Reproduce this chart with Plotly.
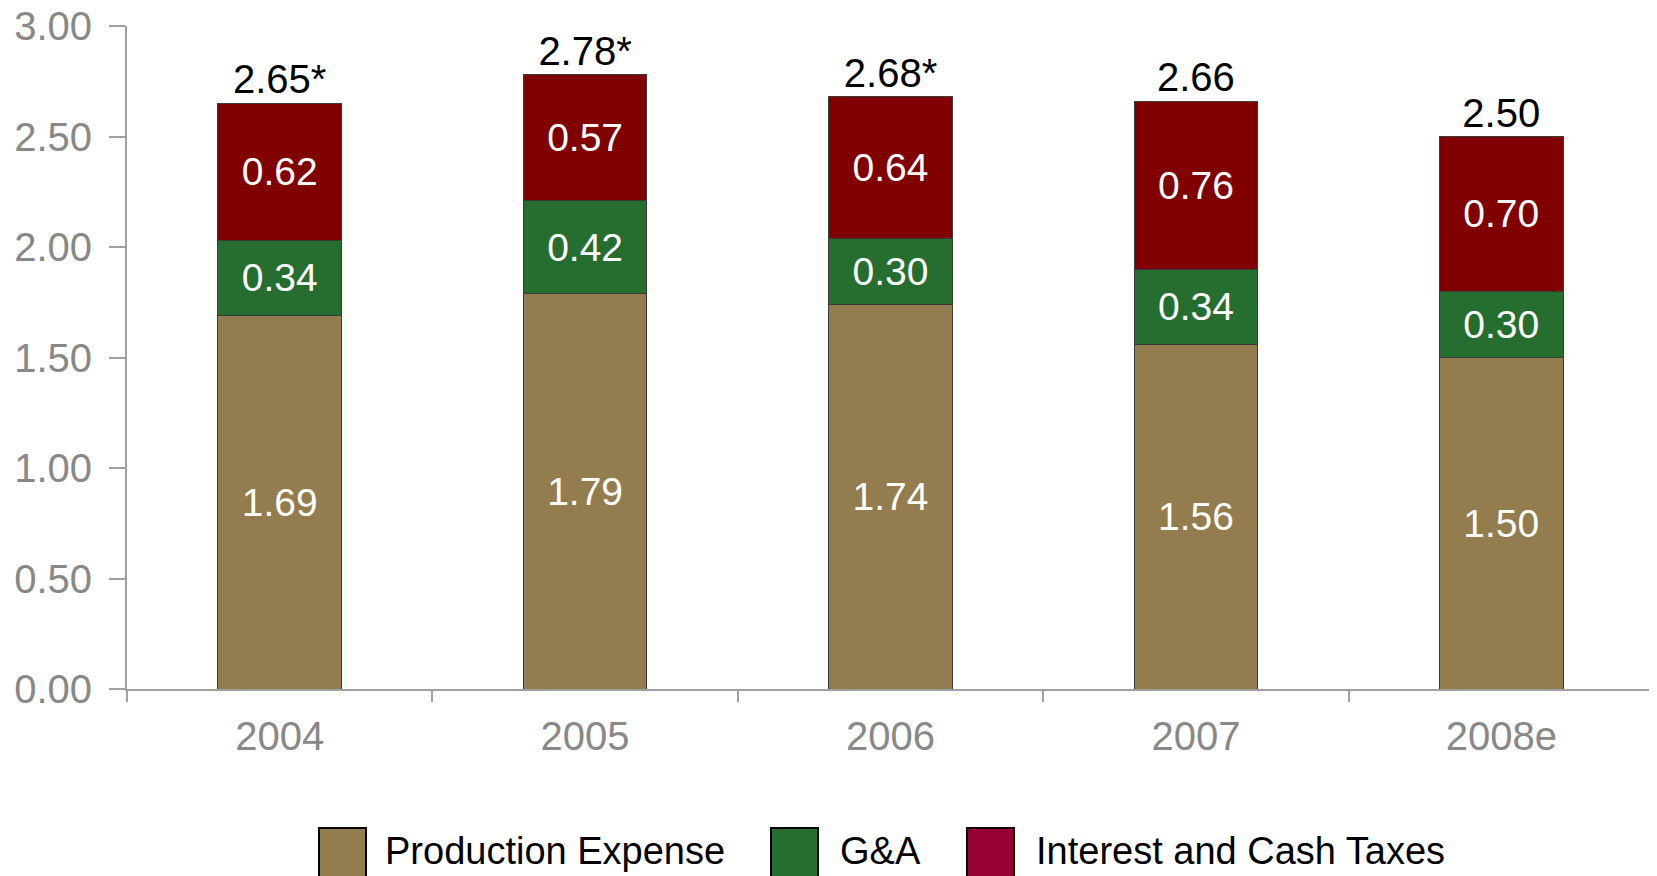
import plotly.graph_objects as go

years = ["2004", "2005", "2006", "2007", "2008e"]
production = [1.69, 1.79, 1.74, 1.56, 1.50]
g_and_a = [0.34, 0.42, 0.30, 0.34, 0.30]
interest_taxes = [0.62, 0.57, 0.64, 0.76, 0.70]
total_labels = ["2.65*", "2.78*", "2.68*", "2.66", "2.50"]
y_ticks = [0, 0.5, 1.0, 1.5, 2.0, 2.5, 3.0]

series = [
    ("Production Expense", production, "#937C4D", "#937C4D"),
    ("G&A", g_and_a, "#256E30", "#256E30"),
    ("Interest and Cash Taxes", interest_taxes, "#800000", "#990033"),
]

FONT = "Liberation Sans, Arial, sans-serif"

fig = go.Figure()
for name, vals, col, _ in series:
    fig.add_trace(go.Bar(
        x=years, y=vals, name=name, width=0.405,
        marker=dict(color=col, line=dict(color="#3a3a3a", width=1)),
        text=[f"{v:.2f}" for v in vals],
        textposition="inside", insidetextanchor="middle", textangle=0,
        constraintext="none",
        textfont=dict(color="white", size=39, family=FONT),
        showlegend=False, hoverinfo="skip",
    ))

totals = [a + b + c for a, b, c in zip(production, g_and_a, interest_taxes)]
fig.add_trace(go.Scatter(
    x=years, y=totals, mode="text", text=total_labels,
    textposition="top center",
    textfont=dict(color="black", size=40, family=FONT),
    showlegend=False, hoverinfo="skip", cliponaxis=False,
))

# custom legend (large swatches); page pixel -> paper coords
W = 1527.0
H = 663.0
def px(x):
    return (x - 127) / W
def py(y):
    return (689 - y) / H

legend_items = [
    (319, 383, "Production Expense"),
    (771, 838, "G&A"),
    (967, 1034, "Interest and Cash Taxes"),
]
for (sx, tx, _), (name, _, _, lcol) in zip(legend_items, series):
    fig.add_shape(type="rect", xref="paper", yref="paper",
                  x0=px(sx), x1=px(sx + 47), y0=py(877), y1=py(828),
                  fillcolor=lcol, line=dict(color="black", width=2))
    fig.add_annotation(xref="paper", yref="paper", x=px(tx), y=py(851),
                       xanchor="left", yanchor="middle", text=name,
                       showarrow=False,
                       font=dict(color="black", size=38, family=FONT))

# page body has an 8px margin, so the figure is offset by 8px
fig.update_layout(
    width=1649, height=868,
    margin=dict(l=119, r=3, t=18, b=187, autoexpand=False),
    paper_bgcolor="white", plot_bgcolor="white",
    barmode="stack", bargap=0.595,
    font=dict(family=FONT),
)
fig.update_xaxes(
    type="category", categoryorder="array", categoryarray=years,
    automargin=False, ticklabeloverflow="allow",
    showgrid=False, showline=True, linecolor="#a0a0a0", linewidth=2,
    ticks="outside", tickson="boundaries", ticklen=11, tickcolor="#a0a0a0",
    tickwidth=2, tickfont=dict(color="#888888", size=40, family=FONT),
    ticklabelstandoff=11, tickangle=0,
)
fig.update_yaxes(
    range=[0, 3], tickvals=y_ticks, ticktext=[f"{v:.2f}" for v in y_ticks],
    automargin=False, ticklabeloverflow="allow",
    showgrid=False, showline=True, linecolor="#a0a0a0", linewidth=2,
    ticks="outside", ticklen=16, tickcolor="#a0a0a0", tickwidth=2,
    tickfont=dict(color="#888888", size=40, family=FONT),
    ticklabelstandoff=9, zeroline=False,
)

fig.write_html("out.html")
